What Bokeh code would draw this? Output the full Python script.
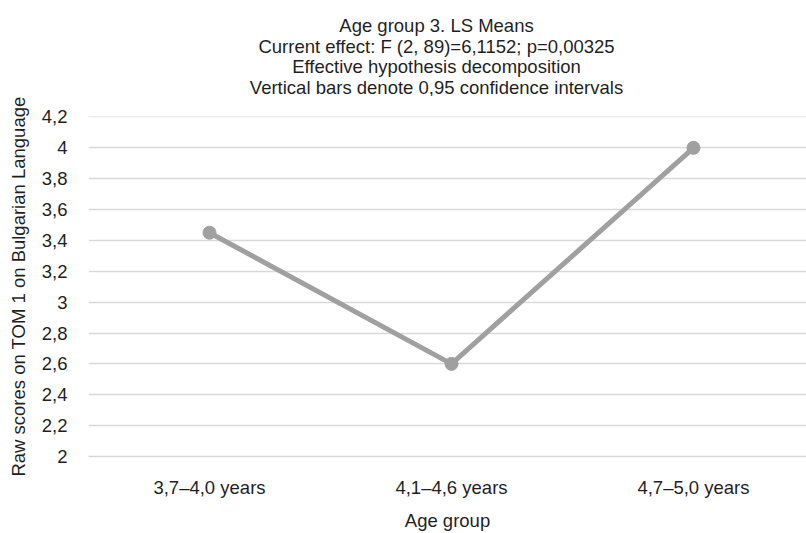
from bokeh.plotting import figure
from bokeh.layouts import column
from bokeh.models import Range1d, FixedTicker, ColumnDataSource
from bokeh.core.properties import value
from bokeh.embed import file_html
from bokeh.resources import INLINE

# LS means per age group
groups = ["3,7–4,0 years", "4,1–4,6 years", "4,7–5,0 years"]
means = [3.45, 2.6, 4.0]
y_ticks = [2.0, 2.2, 2.4, 2.6, 2.8, 3.0, 3.2, 3.4, 3.6, 3.8, 4.0, 4.2]
y_tick_labels = ["2", "2,2", "2,4", "2,6", "2,8", "3", "3,2", "3,4", "3,6", "3,8", "4", "4,2"]
title_lines = [
    "Age group 3. LS Means",
    "Current effect: F (2, 89)=6,1152; p=0,00325",
    "Effective hypothesis decomposition",
    "Vertical bars denote 0,95 confidence intervals",
]

FONT = "Liberation Sans"
TEXT = "#1f1f1f"
LINE = "#a0a0a0"
GRID = "#d9d9d9"
W, H, HEAD_H = 806, 533, 96
LEFT = 88

# ---- heading strip: a bare figure without axes; the column aligns its frame
# with the chart frame below, so x runs in page pixels from LEFT to W
head = figure(width=W, height=HEAD_H, output_backend="svg", toolbar_location=None,
              title=None, x_range=Range1d(LEFT, W), y_range=Range1d(HEAD_H, 0),
              x_axis_location=None, y_axis_location=None,
              min_border=0, outline_line_color=None, align="start")
head.grid.visible = False
head.background_fill_color = "white"
head.border_fill_color = "white"
head.text(x=[436] * len(title_lines), y=[25, 45.5, 66, 86.5], text=title_lines,
          text_align="center", text_baseline="alphabetic",
          text_font=value(FONT), text_font_size="18.5px", text_color=TEXT)

# ---- line chart of the LS means
xs = list(range(len(groups)))
src = ColumnDataSource(dict(x=xs, y=means))

p = figure(width=W, height=H - HEAD_H, output_backend="svg", toolbar_location=None,
           title=None, x_range=Range1d(-0.5, 2.467), y_range=Range1d(2.0, 4.203),
           min_border_left=LEFT, min_border_right=0, min_border_top=116 - HEAD_H,
           min_border_bottom=74, align="start")
p.outline_line_color = None
p.background_fill_color = "white"
p.border_fill_color = "white"

p.xgrid.visible = False
p.ygrid.grid_line_color = GRID
p.ygrid.grid_line_width = 1.5
p.ygrid.ticker = FixedTicker(ticks=y_ticks)

p.yaxis.ticker = FixedTicker(ticks=y_ticks)
p.yaxis.major_label_overrides = {t: l for t, l in zip(y_ticks, y_tick_labels)}
p.yaxis.axis_line_color = None
p.yaxis.major_tick_line_color = None
p.yaxis.minor_tick_line_color = None
p.yaxis.major_label_standoff = 15
p.yaxis.axis_label = "Raw scores on TOM 1 on Bulgarian Language"
p.yaxis.axis_label_standoff = 10

p.xaxis.ticker = FixedTicker(ticks=xs)
p.xaxis.major_label_overrides = {i: g for i, g in enumerate(groups)}
p.xaxis.axis_line_color = GRID
p.xaxis.axis_line_width = 1.5
p.xaxis.major_tick_line_color = None
p.xaxis.minor_tick_line_color = None
p.xaxis.major_label_standoff = 14
p.xaxis.axis_label = "Age group"
p.xaxis.axis_label_standoff = 9

for ax in (p.xaxis[0], p.yaxis[0]):
    ax.major_label_text_font = FONT
    ax.major_label_text_font_size = "18.5px"
    ax.major_label_text_color = TEXT
    ax.axis_label_text_font = FONT
    ax.axis_label_text_font_size = "18.5px"
    ax.axis_label_text_font_style = "normal"
    ax.axis_label_text_color = TEXT

p.line("x", "y", source=src, line_color=LINE, line_width=5)
p.scatter("x", "y", source=src, size=13, fill_color=LINE, line_color=LINE)

layout = column(head, p, spacing=0)
open("out.html", "w").write(file_html(layout, INLINE))
